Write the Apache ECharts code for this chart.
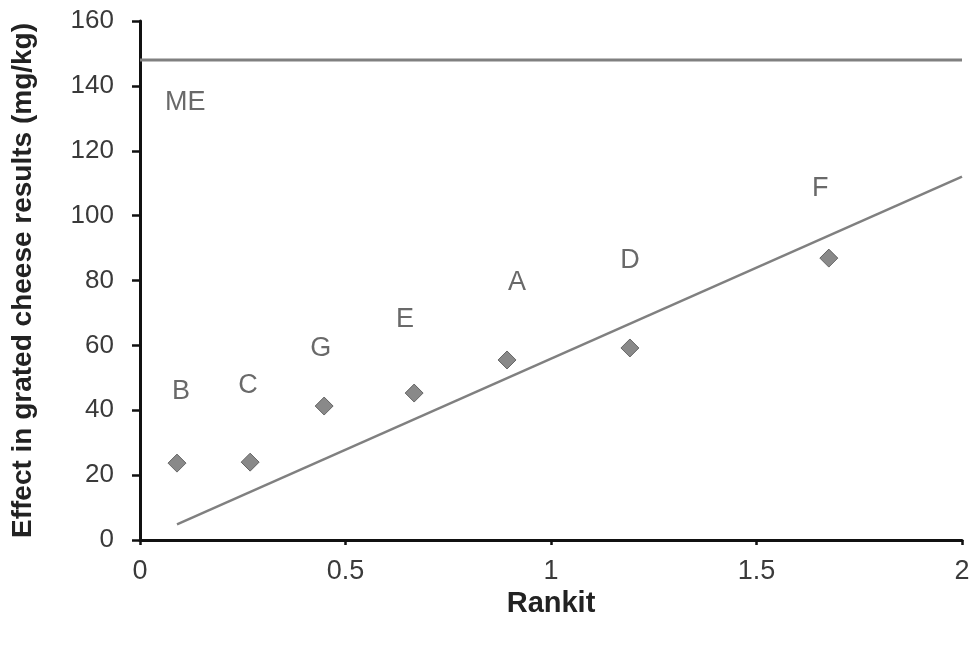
<!DOCTYPE html>
<html>
<head>
<meta charset="utf-8">
<script src="https://cdn.jsdelivr.net/npm/echarts@6/dist/echarts.min.js"></script>
<style>
  html, body { margin: 0; padding: 0; background: #fff; }
  #chart { width: 975px; height: 652px; }
</style>
</head>
<body>
<div id="chart"></div>
<script>
// labs and their points (rankit, effect)
const labs = ['B', 'C', 'G', 'E', 'A', 'D', 'F'];
const rankit = [0.09, 0.268, 0.448, 0.667, 0.893, 1.192, 1.676];
const effect = [23.7, 24.0, 41.3, 45.3, 55.5, 59.2, 86.9];
// where the lab letters sit
const labelX = [0.10, 0.263, 0.44, 0.645, 0.917, 1.192, 1.655];
const labelY = [45.9, 47.5, 58.9, 68.1, 79.5, 86.0, 108.5];
// fitted line and ME line
const fitX = [0.09, 2];
const fitY = [4.8, 112];
const meX = [0, 2];
const meY = [148, 148];
const meLabel = ['ME', 0.11, 135];
const xTicks = [0, 0.5, 1, 1.5, 2];

const font = 'Liberation Sans, Arial, sans-serif';

const pts = rankit.map((x, i) => [x, effect[i]]);
const letters = labs.map((n, i) => ({ value: [labelX[i], labelY[i]], name: n }));
letters.push({ value: [meLabel[1], meLabel[2]], name: meLabel[0] });

const chart = echarts.init(document.getElementById('chart'));
chart.setOption({
  animation: false,
  backgroundColor: '#fff',
  grid: { left: 140, right: 13, top: 21, bottom: 112 },
  xAxis: {
    type: 'value', min: 0, max: 2, interval: 0.5,
    name: 'Rankit', nameLocation: 'middle', nameGap: 48,
    nameTextStyle: { fontFamily: font, fontSize: 29, fontWeight: 'bold', color: '#222' },
    axisLine: { lineStyle: { color: '#111', width: 3 } },
    axisTick: { show: true, length: 5, lineStyle: { color: '#111', width: 2.5 } },
    axisLabel: { fontFamily: font, fontSize: 27, color: '#3a3a3a', margin: 18,
      formatter: v => xTicks.includes(v) ? String(v) : '' },
    splitLine: { show: false }
  },
  yAxis: {
    type: 'value', min: 0, max: 160, interval: 20,
    name: 'Effect in grated cheese results (mg/kg)', nameLocation: 'middle', nameGap: 103,
    nameTextStyle: { fontFamily: font, fontSize: 28, fontWeight: 'bold', color: '#222' },
    axisLine: { show: true, lineStyle: { color: '#111', width: 3 } },
    axisTick: { show: true, length: 8, lineStyle: { color: '#111', width: 2.5 } },
    axisLabel: { fontFamily: font, fontSize: 26, color: '#3a3a3a', margin: 26 },
    splitLine: { show: false }
  },
  series: [
    {
      type: 'line', data: meX.map((x, i) => [x, meY[i]]), symbol: 'none',
      lineStyle: { color: '#808080', width: 3 }, z: 2
    },
    {
      type: 'line', data: fitX.map((x, i) => [x, fitY[i]]), symbol: 'none',
      lineStyle: { color: '#808080', width: 2.5 }, z: 2
    },
    {
      type: 'scatter', data: pts, symbol: 'diamond', symbolSize: [18, 18],
      itemStyle: { color: '#6c6c6c', borderColor: '#505050', borderWidth: 1 }, z: 3
    },
    {
      type: 'scatter', data: letters, symbolSize: 0, silent: true,
      label: { show: true, position: 'inside', formatter: p => p.name,
        fontFamily: font, fontSize: 27, color: '#444' }
    }
  ]
});
</script>
</body>
</html>
